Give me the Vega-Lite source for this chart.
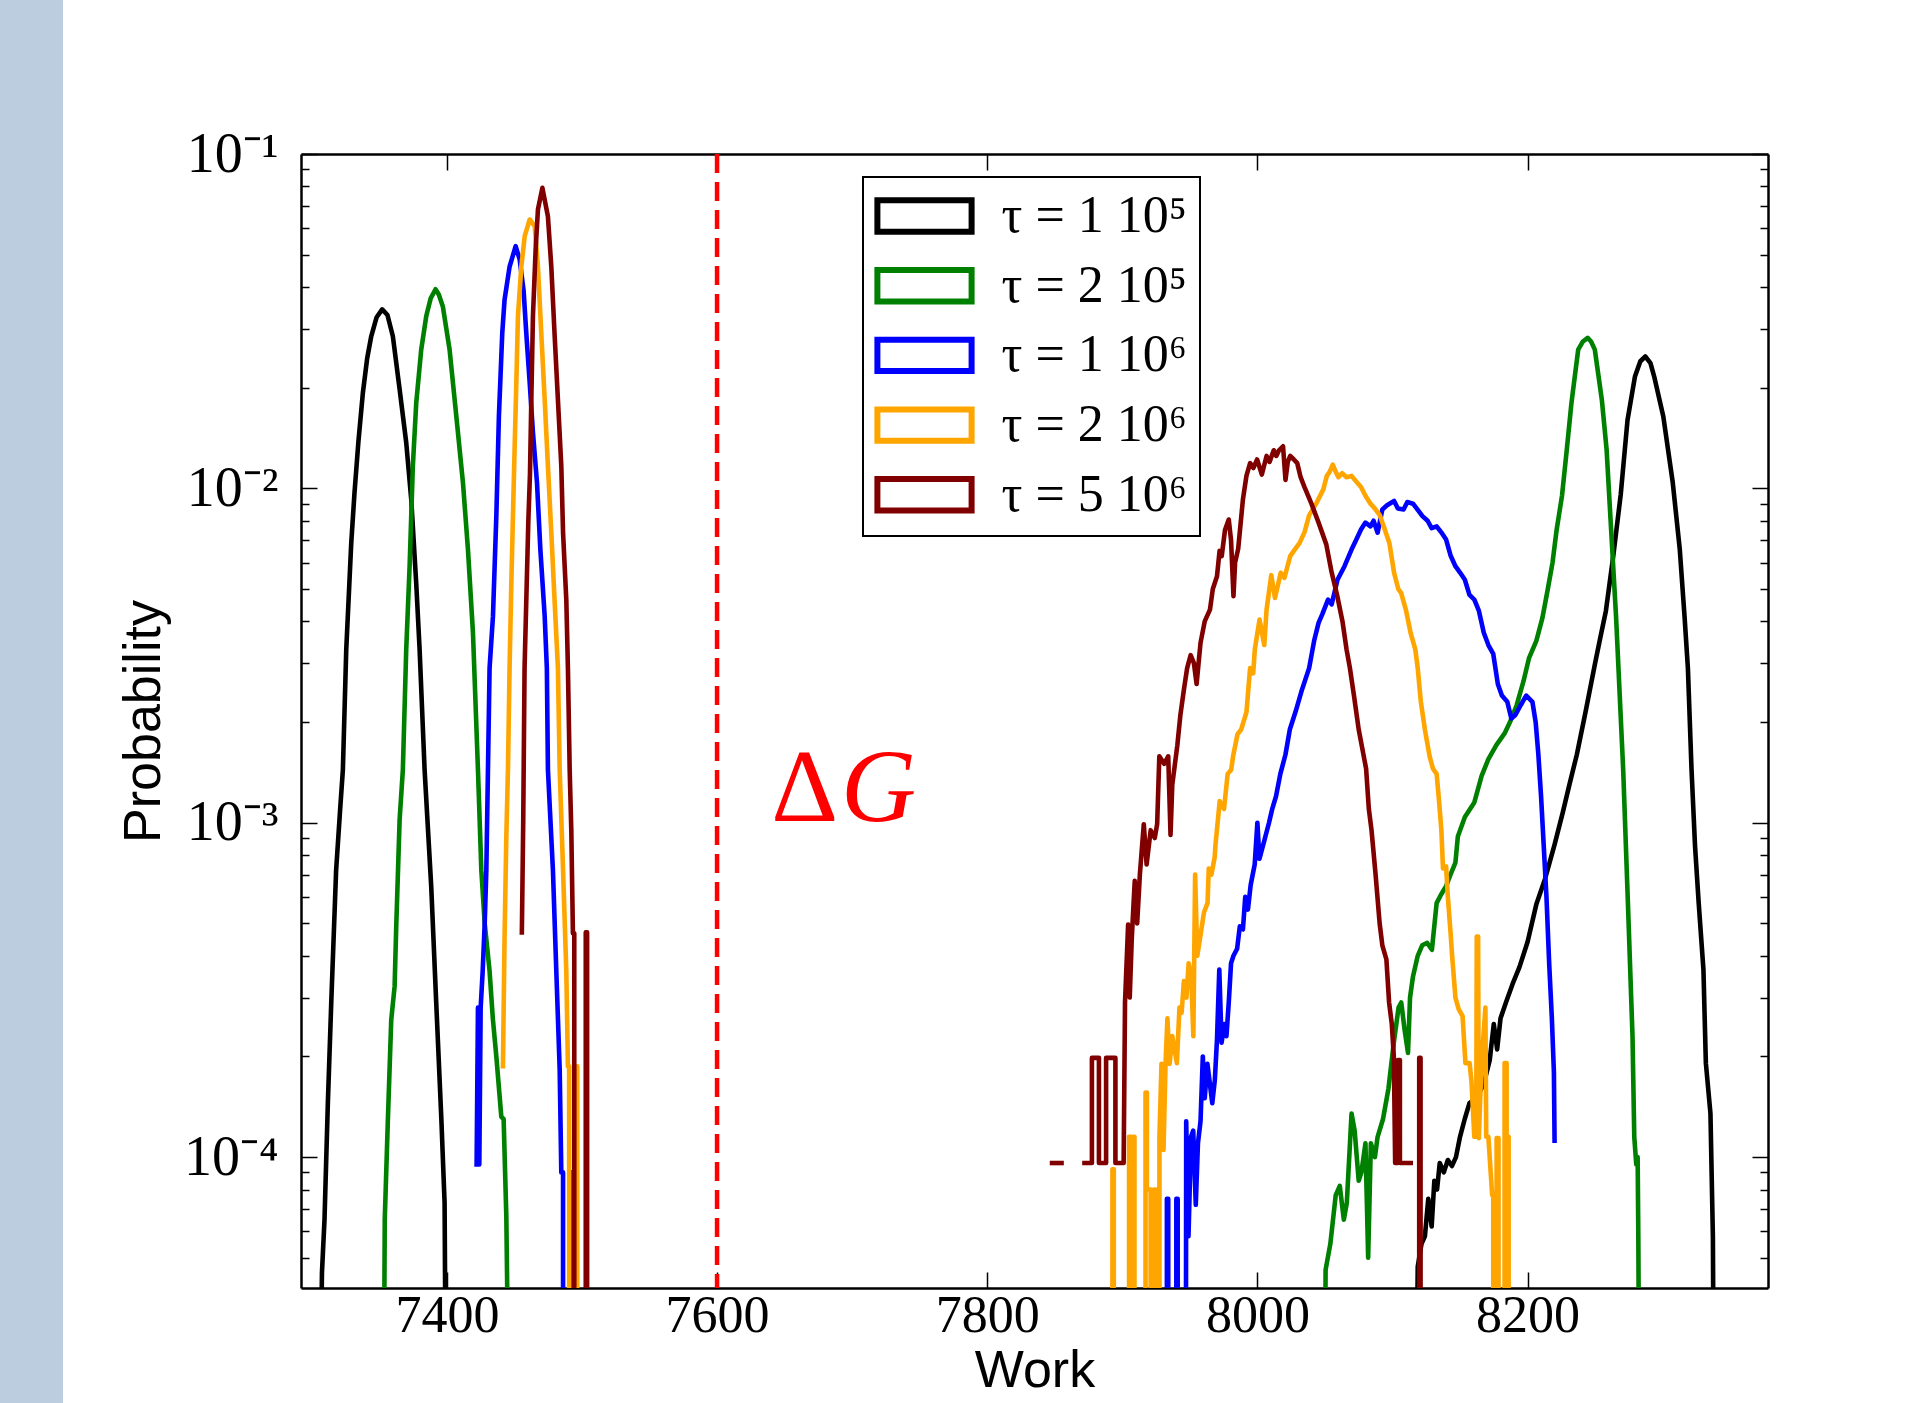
{
"$schema": "https://vega.github.io/schema/vega-lite/v6.json",
"width": 1467, "height": 1134,
"autosize": {"type": "none"},
"padding": {"left": 301, "top": 154, "right": 147, "bottom": 115},
"background": "#bdcde0",
"config": {
 "view": {"stroke": "white", "strokeWidth": 476, "fill": "white"},
 "axis": {"labelFont": "Liberation Serif", "labelFontSize": 52, "labelColor": "black", "titleFont": "Liberation Sans", "titleFontSize": 52, "titleFontWeight": "normal", "titleColor": "black", "domainColor": "black", "domainWidth": 2.5, "tickColor": "black", "tickWidth": 1.5, "grid": false},
 "legend": {"strokeWidth": 2}
},
"datasets": {
"curves": [
{"tau":"A","seg":"L","work":7305.5,"prob":1e-5},{"tau":"A","seg":"L","work":7307.5,"prob":4.5e-5},{"tau":"A","seg":"L","work":7309.4,"prob":6.5e-5},{"tau":"A","seg":"L","work":7311.9,"prob":1.46e-4},{"tau":"A","seg":"L","work":7314.4,"prob":2.9e-4},{"tau":"A","seg":"L","work":7318,"prob":7.2e-4},{"tau":"A","seg":"L","work":7321,"prob":1.1e-3},{"tau":"A","seg":"L","work":7323,"prob":1.44e-3},{"tau":"A","seg":"L","work":7325.5,"prob":3.3e-3},{"tau":"A","seg":"L","work":7329.2,"prob":6.87e-3},{"tau":"A","seg":"L","work":7331.6,"prob":9.7e-3},{"tau":"A","seg":"L","work":7334.5,"prob":0.0138},{"tau":"A","seg":"L","work":7337.8,"prob":0.0193},{"tau":"A","seg":"L","work":7341,"prob":0.0245},{"tau":"A","seg":"L","work":7344,"prob":0.0285},{"tau":"A","seg":"L","work":7348,"prob":0.0325},{"tau":"A","seg":"L","work":7352.1,"prob":0.0343},{"tau":"A","seg":"L","work":7356,"prob":0.033},{"tau":"A","seg":"L","work":7360,"prob":0.0285},{"tau":"A","seg":"L","work":7365,"prob":0.0198},{"tau":"A","seg":"L","work":7369.9,"prob":0.0137},{"tau":"A","seg":"L","work":7373.6,"prob":0.00927},{"tau":"A","seg":"L","work":7377.3,"prob":0.0052},{"tau":"A","seg":"L","work":7379.8,"prob":0.0033},{"tau":"A","seg":"L","work":7383.5,"prob":0.00144},{"tau":"A","seg":"L","work":7388.4,"prob":6.45e-4},{"tau":"A","seg":"L","work":7392.1,"prob":2.9e-4},{"tau":"A","seg":"L","work":7395.9,"prob":1.3e-4},{"tau":"A","seg":"L","work":7398.3,"prob":7.3e-5},{"tau":"A","seg":"L","work":7399.6,"prob":1e-5},
{"tau":"A","seg":"R","work":8117,"prob":1e-5},{"tau":"A","seg":"R","work":8118.7,"prob":4.7e-5},{"tau":"A","seg":"R","work":8121.5,"prob":5.5e-5},{"tau":"A","seg":"R","work":8124,"prob":5.8e-5},{"tau":"A","seg":"R","work":8126.5,"prob":7.5e-5},{"tau":"A","seg":"R","work":8129,"prob":6.2e-5},{"tau":"A","seg":"R","work":8131,"prob":8.5e-5},{"tau":"A","seg":"R","work":8133,"prob":8.0e-5},{"tau":"A","seg":"R","work":8135,"prob":9.6e-5},{"tau":"A","seg":"R","work":8138,"prob":9.0e-5},{"tau":"A","seg":"R","work":8141,"prob":9.8e-5},{"tau":"A","seg":"R","work":8144,"prob":9.4e-5},{"tau":"A","seg":"R","work":8147,"prob":1.0e-4},{"tau":"A","seg":"R","work":8150,"prob":1.15e-4},{"tau":"A","seg":"R","work":8153.5,"prob":1.3e-4},{"tau":"A","seg":"R","work":8157,"prob":1.45e-4},{"tau":"A","seg":"R","work":8162,"prob":1.5e-4},{"tau":"A","seg":"R","work":8167.5,"prob":1.65e-4},{"tau":"A","seg":"R","work":8172,"prob":1.95e-4},{"tau":"A","seg":"R","work":8175,"prob":2.5e-4},{"tau":"A","seg":"R","work":8177.5,"prob":2.1e-4},{"tau":"A","seg":"R","work":8180,"prob":2.6e-4},{"tau":"A","seg":"R","work":8184,"prob":2.9e-4},{"tau":"A","seg":"R","work":8189,"prob":3.3e-4},{"tau":"A","seg":"R","work":8194,"prob":3.7e-4},{"tau":"A","seg":"R","work":8200,"prob":4.4e-4},{"tau":"A","seg":"R","work":8206.5,"prob":5.7e-4},{"tau":"A","seg":"R","work":8213,"prob":6.8e-4},{"tau":"A","seg":"R","work":8220,"prob":8.6e-4},{"tau":"A","seg":"R","work":8226,"prob":1.07e-3},{"tau":"A","seg":"R","work":8231,"prob":1.3e-3},{"tau":"A","seg":"R","work":8236.5,"prob":1.6e-3},{"tau":"A","seg":"R","work":8243,"prob":2.15e-3},{"tau":"A","seg":"R","work":8250,"prob":3.0e-3},{"tau":"A","seg":"R","work":8254,"prob":3.6e-3},{"tau":"A","seg":"R","work":8258,"prob":4.3e-3},{"tau":"A","seg":"R","work":8263.5,"prob":6.3e-3},{"tau":"A","seg":"R","work":8269,"prob":9.6e-3},{"tau":"A","seg":"R","work":8274,"prob":0.016},{"tau":"A","seg":"R","work":8279.5,"prob":0.0216},{"tau":"A","seg":"R","work":8283.5,"prob":0.024},{"tau":"A","seg":"R","work":8287.2,"prob":0.0248},{"tau":"A","seg":"R","work":8291,"prob":0.0237},{"tau":"A","seg":"R","work":8294,"prob":0.0214},{"tau":"A","seg":"R","work":8300.5,"prob":0.0164},{"tau":"A","seg":"R","work":8307.5,"prob":0.0104},{"tau":"A","seg":"R","work":8312.7,"prob":6.56e-3},{"tau":"A","seg":"R","work":8316.2,"prob":4.15e-3},{"tau":"A","seg":"R","work":8318.7,"prob":2.9e-3},{"tau":"A","seg":"R","work":8321.4,"prob":1.44e-3},{"tau":"A","seg":"R","work":8324,"prob":8.5e-4},{"tau":"A","seg":"R","work":8326.7,"prob":5.75e-4},{"tau":"A","seg":"R","work":8330.2,"prob":3.64e-4},{"tau":"A","seg":"R","work":8332,"prob":1.91e-4},{"tau":"A","seg":"R","work":8335.4,"prob":1.35e-4},{"tau":"A","seg":"R","work":8337.2,"prob":5.8e-5},{"tau":"A","seg":"R","work":8338.2,"prob":1e-5},
{"tau":"B","seg":"L","work":7353,"prob":1e-5},{"tau":"B","seg":"L","work":7354,"prob":6.5e-5},{"tau":"B","seg":"L","work":7356.3,"prob":1.29e-4},{"tau":"B","seg":"L","work":7358.8,"prob":2.57e-4},{"tau":"B","seg":"L","work":7361.3,"prob":3.24e-4},{"tau":"B","seg":"L","work":7362.5,"prob":4.9e-4},{"tau":"B","seg":"L","work":7365,"prob":1.02e-3},{"tau":"B","seg":"L","work":7367.4,"prob":1.44e-3},{"tau":"B","seg":"L","work":7369.9,"prob":3.3e-3},{"tau":"B","seg":"L","work":7372.4,"prob":5.85e-3},{"tau":"B","seg":"L","work":7374.8,"prob":0.01165},{"tau":"B","seg":"L","work":7377.3,"prob":0.018},{"tau":"B","seg":"L","work":7381,"prob":0.026},{"tau":"B","seg":"L","work":7384.7,"prob":0.0327},{"tau":"B","seg":"L","work":7388,"prob":0.037},{"tau":"B","seg":"L","work":7391.6,"prob":0.0394},{"tau":"B","seg":"L","work":7394,"prob":0.038},{"tau":"B","seg":"L","work":7397,"prob":0.035},{"tau":"B","seg":"L","work":7402,"prob":0.026},{"tau":"B","seg":"L","work":7407,"prob":0.0164},{"tau":"B","seg":"L","work":7411.9,"prob":0.0104},{"tau":"B","seg":"L","work":7415.6,"prob":6.56e-3},{"tau":"B","seg":"L","work":7419.3,"prob":3.7e-3},{"tau":"B","seg":"L","work":7423,"prob":1.44e-3},{"tau":"B","seg":"L","work":7425.5,"prob":7.2e-4},{"tau":"B","seg":"L","work":7428,"prob":5.0e-4},{"tau":"B","seg":"L","work":7431.6,"prob":3.6e-4},{"tau":"B","seg":"L","work":7434,"prob":2.6e-4},{"tau":"B","seg":"L","work":7436.6,"prob":2.0e-4},{"tau":"B","seg":"L","work":7440.3,"prob":1.32e-4},{"tau":"B","seg":"L","work":7442,"prob":1.3e-4},{"tau":"B","seg":"L","work":7444,"prob":6.65e-5},{"tau":"B","seg":"L","work":7446.5,"prob":1e-5},
{"tau":"B","seg":"R","work":8049.5,"prob":1e-5},{"tau":"B","seg":"R","work":8050.5,"prob":4.6e-5},{"tau":"B","seg":"R","work":8054,"prob":5.5e-5},{"tau":"B","seg":"R","work":8058,"prob":7.7e-5},{"tau":"B","seg":"R","work":8061,"prob":8.2e-5},{"tau":"B","seg":"R","work":8064,"prob":6.5e-5},{"tau":"B","seg":"R","work":8066.2,"prob":7.3e-5},{"tau":"B","seg":"R","work":8069.7,"prob":1.35e-4},{"tau":"B","seg":"R","work":8072,"prob":1.2e-4},{"tau":"B","seg":"R","work":8075,"prob":8.5e-5},{"tau":"B","seg":"R","work":8077,"prob":9.0e-5},{"tau":"B","seg":"R","work":8080,"prob":1.1e-4},{"tau":"B","seg":"R","work":8082,"prob":5.0e-5},{"tau":"B","seg":"R","work":8084,"prob":1.1e-4},{"tau":"B","seg":"R","work":8087,"prob":1.0e-4},{"tau":"B","seg":"R","work":8089,"prob":1.15e-4},{"tau":"B","seg":"R","work":8093,"prob":1.3e-4},{"tau":"B","seg":"R","work":8097,"prob":1.6e-4},{"tau":"B","seg":"R","work":8101,"prob":2.2e-4},{"tau":"B","seg":"R","work":8104.5,"prob":2.8e-4},{"tau":"B","seg":"R","work":8106.5,"prob":2.9e-4},{"tau":"B","seg":"R","work":8109,"prob":2.4e-4},{"tau":"B","seg":"R","work":8111.5,"prob":2.05e-4},{"tau":"B","seg":"R","work":8113,"prob":3.0e-4},{"tau":"B","seg":"R","work":8115.2,"prob":3.47e-4},{"tau":"B","seg":"R","work":8118.7,"prob":4.0e-4},{"tau":"B","seg":"R","work":8122,"prob":4.3e-4},{"tau":"B","seg":"R","work":8125.7,"prob":4.37e-4},{"tau":"B","seg":"R","work":8129.2,"prob":4.17e-4},{"tau":"B","seg":"R","work":8132.7,"prob":5.75e-4},{"tau":"B","seg":"R","work":8136,"prob":6.1e-4},{"tau":"B","seg":"R","work":8139.7,"prob":6.46e-4},{"tau":"B","seg":"R","work":8143,"prob":7.0e-4},{"tau":"B","seg":"R","work":8146.6,"prob":7.6e-4},{"tau":"B","seg":"R","work":8148.4,"prob":9.1e-4},{"tau":"B","seg":"R","work":8153.6,"prob":1.04e-3},{"tau":"B","seg":"R","work":8160.6,"prob":1.15e-3},{"tau":"B","seg":"R","work":8166,"prob":1.38e-3},{"tau":"B","seg":"R","work":8171,"prob":1.55e-3},{"tau":"B","seg":"R","work":8177,"prob":1.71e-3},{"tau":"B","seg":"R","work":8183,"prob":1.85e-3},{"tau":"B","seg":"R","work":8187,"prob":2.0e-3},{"tau":"B","seg":"R","work":8192,"prob":2.25e-3},{"tau":"B","seg":"R","work":8197,"prob":2.65e-3},{"tau":"B","seg":"R","work":8201,"prob":3.1e-3},{"tau":"B","seg":"R","work":8206.5,"prob":3.5e-3},{"tau":"B","seg":"R","work":8211,"prob":4.1e-3},{"tau":"B","seg":"R","work":8215,"prob":5.0e-3},{"tau":"B","seg":"R","work":8218.5,"prob":6.0e-3},{"tau":"B","seg":"R","work":8221.5,"prob":7.5e-3},{"tau":"B","seg":"R","work":8225.5,"prob":9.5e-3},{"tau":"B","seg":"R","work":8229,"prob":0.013},{"tau":"B","seg":"R","work":8232.5,"prob":0.018},{"tau":"B","seg":"R","work":8237.5,"prob":0.026},{"tau":"B","seg":"R","work":8241,"prob":0.0275},{"tau":"B","seg":"R","work":8244.5,"prob":0.0282},{"tau":"B","seg":"R","work":8247,"prob":0.0275},{"tau":"B","seg":"R","work":8249.8,"prob":0.026},{"tau":"B","seg":"R","work":8255,"prob":0.0184},{"tau":"B","seg":"R","work":8258.5,"prob":0.0131},{"tau":"B","seg":"R","work":8262,"prob":7.36e-3},{"tau":"B","seg":"R","work":8265.5,"prob":4.15e-3},{"tau":"B","seg":"R","work":8267.3,"prob":2.9e-3},{"tau":"B","seg":"R","work":8270.8,"prob":1.44e-3},{"tau":"B","seg":"R","work":8274.3,"prob":5.75e-4},{"tau":"B","seg":"R","work":8277.7,"prob":2.3e-4},{"tau":"B","seg":"R","work":8279,"prob":1.15e-4},{"tau":"B","seg":"R","work":8280.5,"prob":9.5e-5},{"tau":"B","seg":"R","work":8281.5,"prob":1.0e-4},{"tau":"B","seg":"R","work":8282,"prob":5.8e-5},{"tau":"B","seg":"R","work":8283,"prob":1e-5},
{"tau":"C","seg":"L","work":7422,"prob":9.5e-5},{"tau":"C","seg":"L","work":7423,"prob":2.8e-4},{"tau":"C","seg":"L","work":7424,"prob":9.5e-5},{"tau":"C","seg":"L","work":7425,"prob":2.8e-4},{"tau":"C","seg":"L","work":7426.5,"prob":3.6e-4},{"tau":"C","seg":"L","work":7428,"prob":5.0e-4},{"tau":"C","seg":"L","work":7429.2,"prob":7.2e-4},{"tau":"C","seg":"L","work":7430.4,"prob":1.44e-3},{"tau":"C","seg":"L","work":7431.6,"prob":2.9e-3},{"tau":"C","seg":"L","work":7434.1,"prob":4.14e-3},{"tau":"C","seg":"L","work":7436.6,"prob":8.26e-3},{"tau":"C","seg":"L","work":7438.5,"prob":0.0164},{"tau":"C","seg":"L","work":7441,"prob":0.0292},{"tau":"C","seg":"L","work":7442.7,"prob":0.0367},{"tau":"C","seg":"L","work":7446.4,"prob":0.046},{"tau":"C","seg":"L","work":7450.9,"prob":0.053},{"tau":"C","seg":"L","work":7453.9,"prob":0.0483},{"tau":"C","seg":"L","work":7456.8,"prob":0.039},{"tau":"C","seg":"L","work":7458.8,"prob":0.029},{"tau":"C","seg":"L","work":7461.3,"prob":0.0207},{"tau":"C","seg":"L","work":7463.7,"prob":0.0147},{"tau":"C","seg":"L","work":7466.7,"prob":0.0104},{"tau":"C","seg":"L","work":7469.2,"prob":6.56e-3},{"tau":"C","seg":"L","work":7472.4,"prob":4.14e-3},{"tau":"C","seg":"L","work":7474,"prob":2.9e-3},{"tau":"C","seg":"L","work":7474.8,"prob":1.44e-3},{"tau":"C","seg":"L","work":7478.5,"prob":7.2e-4},{"tau":"C","seg":"L","work":7481,"prob":3.6e-4},{"tau":"C","seg":"L","work":7483.5,"prob":1.83e-4},{"tau":"C","seg":"L","work":7484.7,"prob":9e-5},{"tau":"C","seg":"L","work":7486,"prob":9e-5},{"tau":"C","seg":"L","work":7486,"prob":1e-5},
{"tau":"C","seg":"L2","work":7491.6,"prob":1e-5},{"tau":"C","seg":"L2","work":7491.6,"prob":9e-5},{"tau":"C","seg":"L2","work":7492.6,"prob":9e-5},{"tau":"C","seg":"L2","work":7492.6,"prob":1e-5},
{"tau":"C","seg":"R1","work":7933,"prob":1e-5},{"tau":"C","seg":"R1","work":7933,"prob":7.5e-5},{"tau":"C","seg":"R1","work":7934,"prob":7.5e-5},{"tau":"C","seg":"R1","work":7934,"prob":1e-5},{"tau":"C","seg":"R1","work":7940,"prob":1e-5},{"tau":"C","seg":"R1","work":7940,"prob":7.5e-5},{"tau":"C","seg":"R1","work":7941,"prob":7.5e-5},{"tau":"C","seg":"R1","work":7941,"prob":1e-5},
{"tau":"C","seg":"R","work":7947,"prob":1e-5},{"tau":"C","seg":"R","work":7947.3,"prob":1.28e-4},{"tau":"C","seg":"R","work":7949,"prob":5.8e-5},{"tau":"C","seg":"R","work":7950.9,"prob":1.15e-4},{"tau":"C","seg":"R","work":7952.5,"prob":1.2e-4},{"tau":"C","seg":"R","work":7954.4,"prob":7.2e-5},{"tau":"C","seg":"R","work":7956,"prob":1.1e-4},{"tau":"C","seg":"R","work":7957.9,"prob":1.28e-4},{"tau":"C","seg":"R","work":7959.6,"prob":2.0e-4},{"tau":"C","seg":"R","work":7961,"prob":1.5e-4},{"tau":"C","seg":"R","work":7963,"prob":1.9e-4},{"tau":"C","seg":"R","work":7966.6,"prob":1.45e-4},{"tau":"C","seg":"R","work":7968.5,"prob":1.7e-4},{"tau":"C","seg":"R","work":7970.1,"prob":2.25e-4},{"tau":"C","seg":"R","work":7971.8,"prob":3.64e-4},{"tau":"C","seg":"R","work":7973.5,"prob":2.2e-4},{"tau":"C","seg":"R","work":7975.5,"prob":2.5e-4},{"tau":"C","seg":"R","work":7977.1,"prob":2.3e-4},{"tau":"C","seg":"R","work":7978.8,"prob":2.9e-4},{"tau":"C","seg":"R","work":7980.5,"prob":3.8e-4},{"tau":"C","seg":"R","work":7982.3,"prob":4.0e-4},{"tau":"C","seg":"R","work":7985,"prob":4.2e-4},{"tau":"C","seg":"R","work":7987,"prob":4.9e-4},{"tau":"C","seg":"R","work":7989.3,"prob":4.8e-4},{"tau":"C","seg":"R","work":7991,"prob":6.0e-4},{"tau":"C","seg":"R","work":7993,"prob":5.5e-4},{"tau":"C","seg":"R","work":7995,"prob":6.5e-4},{"tau":"C","seg":"R","work":7998,"prob":7.5e-4},{"tau":"C","seg":"R","work":8000,"prob":1.0e-3},{"tau":"C","seg":"R","work":8001.5,"prob":7.8e-4},{"tau":"C","seg":"R","work":8004,"prob":8.5e-4},{"tau":"C","seg":"R","work":8008.6,"prob":1.0e-3},{"tau":"C","seg":"R","work":8011,"prob":1.1e-3},{"tau":"C","seg":"R","work":8013.8,"prob":1.2e-3},{"tau":"C","seg":"R","work":8017,"prob":1.4e-3},{"tau":"C","seg":"R","work":8020.8,"prob":1.6e-3},{"tau":"C","seg":"R","work":8024,"prob":1.9e-3},{"tau":"C","seg":"R","work":8028.3,"prob":2.15e-3},{"tau":"C","seg":"R","work":8033,"prob":2.5e-3},{"tau":"C","seg":"R","work":8038.3,"prob":2.9e-3},{"tau":"C","seg":"R","work":8042,"prob":3.5e-3},{"tau":"C","seg":"R","work":8045.3,"prob":3.96e-3},{"tau":"C","seg":"R","work":8048,"prob":4.2e-3},{"tau":"C","seg":"R","work":8052.3,"prob":4.65e-3},{"tau":"C","seg":"R","work":8055,"prob":4.5e-3},{"tau":"C","seg":"R","work":8059.3,"prob":5.33e-3},{"tau":"C","seg":"R","work":8064.5,"prob":5.85e-3},{"tau":"C","seg":"R","work":8069.7,"prob":6.56e-3},{"tau":"C","seg":"R","work":8073,"prob":7.0e-3},{"tau":"C","seg":"R","work":8076.7,"prob":7.53e-3},{"tau":"C","seg":"R","work":8080,"prob":7.9e-3},{"tau":"C","seg":"R","work":8083.7,"prob":7.7e-3},{"tau":"C","seg":"R","work":8086,"prob":8.0e-3},{"tau":"C","seg":"R","work":8089,"prob":7.37e-3},{"tau":"C","seg":"R","work":8092.5,"prob":8.65e-3},{"tau":"C","seg":"R","work":8096,"prob":8.9e-3},{"tau":"C","seg":"R","work":8101.2,"prob":9.17e-3},{"tau":"C","seg":"R","work":8104,"prob":8.7e-3},{"tau":"C","seg":"R","work":8108.2,"prob":8.65e-3},{"tau":"C","seg":"R","work":8111,"prob":9.1e-3},{"tau":"C","seg":"R","work":8115.2,"prob":9.0e-3},{"tau":"C","seg":"R","work":8118,"prob":8.7e-3},{"tau":"C","seg":"R","work":8122.2,"prob":8.26e-3},{"tau":"C","seg":"R","work":8126,"prob":8.0e-3},{"tau":"C","seg":"R","work":8129,"prob":7.6e-3},{"tau":"C","seg":"R","work":8132.7,"prob":7.7e-3},{"tau":"C","seg":"R","work":8136,"prob":7.4e-3},{"tau":"C","seg":"R","work":8139.7,"prob":7.03e-3},{"tau":"C","seg":"R","work":8143,"prob":6.3e-3},{"tau":"C","seg":"R","work":8146.6,"prob":5.85e-3},{"tau":"C","seg":"R","work":8150,"prob":5.6e-3},{"tau":"C","seg":"R","work":8153.6,"prob":5.33e-3},{"tau":"C","seg":"R","work":8157,"prob":4.8e-3},{"tau":"C","seg":"R","work":8160.6,"prob":4.65e-3},{"tau":"C","seg":"R","work":8164,"prob":4.3e-3},{"tau":"C","seg":"R","work":8167.6,"prob":3.7e-3},{"tau":"C","seg":"R","work":8171,"prob":3.4e-3},{"tau":"C","seg":"R","work":8174.6,"prob":3.2e-3},{"tau":"C","seg":"R","work":8178,"prob":2.6e-3},{"tau":"C","seg":"R","work":8181,"prob":2.4e-3},{"tau":"C","seg":"R","work":8185,"prob":2.3e-3},{"tau":"C","seg":"R","work":8188,"prob":2.05e-3},{"tau":"C","seg":"R","work":8191,"prob":2.1e-3},{"tau":"C","seg":"R","work":8195,"prob":2.25e-3},{"tau":"C","seg":"R","work":8199,"prob":2.4e-3},{"tau":"C","seg":"R","work":8203.6,"prob":2.3e-3},{"tau":"C","seg":"R","work":8206,"prob":2.0e-3},{"tau":"C","seg":"R","work":8208,"prob":1.6e-3},{"tau":"C","seg":"R","work":8210,"prob":1.2e-3},{"tau":"C","seg":"R","work":8212,"prob":8.5e-4},{"tau":"C","seg":"R","work":8214,"prob":6.0e-4},{"tau":"C","seg":"R","work":8216,"prob":3.8e-4},{"tau":"C","seg":"R","work":8218,"prob":2.6e-4},{"tau":"C","seg":"R","work":8219.5,"prob":1.8e-4},{"tau":"C","seg":"R","work":8220,"prob":1.12e-4},
{"tau":"D","seg":"L","work":7441.5,"prob":1.87e-4},{"tau":"D","seg":"L","work":7442.7,"prob":4.57e-4},{"tau":"D","seg":"L","work":7444,"prob":9.1e-4},{"tau":"D","seg":"L","work":7445.2,"prob":1.44e-3},{"tau":"D","seg":"L","work":7446.4,"prob":2.9e-3},{"tau":"D","seg":"L","work":7447.7,"prob":5.2e-3},{"tau":"D","seg":"L","work":7448.9,"prob":8.26e-3},{"tau":"D","seg":"L","work":7450.1,"prob":0.013},{"tau":"D","seg":"L","work":7451.4,"prob":0.0207},{"tau":"D","seg":"L","work":7452.6,"prob":0.0327},{"tau":"D","seg":"L","work":7455.1,"prob":0.046},{"tau":"D","seg":"L","work":7457.6,"prob":0.0568},{"tau":"D","seg":"L","work":7461.3,"prob":0.0637},{"tau":"D","seg":"L","work":7465,"prob":0.0609},{"tau":"D","seg":"L","work":7467.4,"prob":0.046},{"tau":"D","seg":"L","work":7469.9,"prob":0.029},{"tau":"D","seg":"L","work":7472.4,"prob":0.0184},{"tau":"D","seg":"L","work":7474.8,"prob":0.01165},{"tau":"D","seg":"L","work":7477.3,"prob":7.36e-3},{"tau":"D","seg":"L","work":7479.7,"prob":4.64e-3},{"tau":"D","seg":"L","work":7482.2,"prob":2.9e-3},{"tau":"D","seg":"L","work":7483.5,"prob":1.44e-3},{"tau":"D","seg":"L","work":7486,"prob":7.2e-4},{"tau":"D","seg":"L","work":7488.4,"prob":3.6e-4},{"tau":"D","seg":"L","work":7489.6,"prob":1.87e-4},{"tau":"D","seg":"L","work":7490.5,"prob":1.87e-4},{"tau":"D","seg":"L","work":7490.5,"prob":1e-5},
{"tau":"D","seg":"L2","work":7495.5,"prob":1e-5},{"tau":"D","seg":"L2","work":7495.5,"prob":1.87e-4},{"tau":"D","seg":"L2","work":7496.5,"prob":1.87e-4},{"tau":"D","seg":"L2","work":7496.5,"prob":1e-5},
{"tau":"D","seg":"R","work":7892.7,"prob":1e-5},{"tau":"D","seg":"R","work":7892.7,"prob":9.2e-5},{"tau":"D","seg":"R","work":7893.7,"prob":9.2e-5},{"tau":"D","seg":"R","work":7893.7,"prob":1e-5},{"tau":"D","seg":"R","work":7905,"prob":1e-5},{"tau":"D","seg":"R","work":7905,"prob":1.15e-4},{"tau":"D","seg":"R","work":7906.5,"prob":1.15e-4},{"tau":"D","seg":"R","work":7906.5,"prob":1e-5},{"tau":"D","seg":"R","work":7908,"prob":1e-5},{"tau":"D","seg":"R","work":7908,"prob":1.15e-4},{"tau":"D","seg":"R","work":7909,"prob":1.15e-4},{"tau":"D","seg":"R","work":7909,"prob":1e-5},{"tau":"D","seg":"R","work":7917.2,"prob":1e-5},{"tau":"D","seg":"R","work":7917.2,"prob":1.56e-4},{"tau":"D","seg":"R","work":7918.2,"prob":1.56e-4},{"tau":"D","seg":"R","work":7918.2,"prob":8e-5},{"tau":"D","seg":"R","work":7921,"prob":8e-5},{"tau":"D","seg":"R","work":7921,"prob":1e-5},{"tau":"D","seg":"R","work":7923.5,"prob":1e-5},{"tau":"D","seg":"R","work":7923.5,"prob":8e-5},{"tau":"D","seg":"R","work":7925,"prob":8e-5},{"tau":"D","seg":"R","work":7925,"prob":1e-5},{"tau":"D","seg":"R","work":7927.5,"prob":1e-5},{"tau":"D","seg":"R","work":7927.5,"prob":1.15e-4},{"tau":"D","seg":"R","work":7929,"prob":1.9e-4},{"tau":"D","seg":"R","work":7930.5,"prob":1.05e-4},{"tau":"D","seg":"R","work":7932,"prob":1.9e-4},{"tau":"D","seg":"R","work":7933.4,"prob":2.6e-4},{"tau":"D","seg":"R","work":7935,"prob":1.9e-4},{"tau":"D","seg":"R","work":7937,"prob":2.3e-4},{"tau":"D","seg":"R","work":7940.4,"prob":1.91e-4},{"tau":"D","seg":"R","work":7942.3,"prob":2.8e-4},{"tau":"D","seg":"R","work":7943.9,"prob":2.7e-4},{"tau":"D","seg":"R","work":7945.6,"prob":3.36e-4},{"tau":"D","seg":"R","work":7947.5,"prob":3.0e-4},{"tau":"D","seg":"R","work":7949.1,"prob":3.8e-4},{"tau":"D","seg":"R","work":7951,"prob":3.5e-4},{"tau":"D","seg":"R","work":7952.6,"prob":2.3e-4},{"tau":"D","seg":"R","work":7953.9,"prob":7.0e-4},{"tau":"D","seg":"R","work":7955.5,"prob":4.0e-4},{"tau":"D","seg":"R","work":7957.5,"prob":4.5e-4},{"tau":"D","seg":"R","work":7960.5,"prob":5.4e-4},{"tau":"D","seg":"R","work":7963.1,"prob":5.75e-4},{"tau":"D","seg":"R","work":7964,"prob":7.3e-4},{"tau":"D","seg":"R","work":7966,"prob":7.0e-4},{"tau":"D","seg":"R","work":7968.4,"prob":7.9e-4},{"tau":"D","seg":"R","work":7969,"prob":8.6e-4},{"tau":"D","seg":"R","work":7972.1,"prob":1.16e-3},{"tau":"D","seg":"R","work":7975.3,"prob":1.1e-3},{"tau":"D","seg":"R","work":7978,"prob":1.4e-3},{"tau":"D","seg":"R","work":7980.6,"prob":1.44e-3},{"tau":"D","seg":"R","work":7982,"prob":1.58e-3},{"tau":"D","seg":"R","work":7985.3,"prob":1.84e-3},{"tau":"D","seg":"R","work":7988,"prob":1.9e-3},{"tau":"D","seg":"R","work":7991.9,"prob":2.14e-3},{"tau":"D","seg":"R","work":7994.6,"prob":2.9e-3},{"tau":"D","seg":"R","work":7996.9,"prob":2.8e-3},{"tau":"D","seg":"R","work":7998.1,"prob":3.3e-3},{"tau":"D","seg":"R","work":8001.6,"prob":4.05e-3},{"tau":"D","seg":"R","work":8005.1,"prob":3.4e-3},{"tau":"D","seg":"R","work":8006.8,"prob":4.34e-3},{"tau":"D","seg":"R","work":8010.3,"prob":5.5e-3},{"tau":"D","seg":"R","work":8013,"prob":4.7e-3},{"tau":"D","seg":"R","work":8017.3,"prob":5.59e-3},{"tau":"D","seg":"R","work":8020,"prob":5.4e-3},{"tau":"D","seg":"R","work":8024.3,"prob":6.27e-3},{"tau":"D","seg":"R","work":8027,"prob":6.5e-3},{"tau":"D","seg":"R","work":8031.3,"prob":6.87e-3},{"tau":"D","seg":"R","work":8034.9,"prob":7.4e-3},{"tau":"D","seg":"R","work":8038.3,"prob":8.3e-3},{"tau":"D","seg":"R","work":8043.5,"prob":9.0e-3},{"tau":"D","seg":"R","work":8048.8,"prob":9.93e-3},{"tau":"D","seg":"R","work":8051.4,"prob":0.0109},{"tau":"D","seg":"R","work":8053.5,"prob":0.0112},{"tau":"D","seg":"R","work":8055.8,"prob":0.01178},{"tau":"D","seg":"R","work":8058,"prob":0.0112},{"tau":"D","seg":"R","work":8060,"prob":0.0108},{"tau":"D","seg":"R","work":8062.7,"prob":0.0111},{"tau":"D","seg":"R","work":8066,"prob":0.0108},{"tau":"D","seg":"R","work":8069.7,"prob":0.0109},{"tau":"D","seg":"R","work":8073,"prob":0.0105},{"tau":"D","seg":"R","work":8076.7,"prob":0.0101},{"tau":"D","seg":"R","work":8080,"prob":9.5e-3},{"tau":"D","seg":"R","work":8083.7,"prob":9.0e-3},{"tau":"D","seg":"R","work":8087,"prob":8.7e-3},{"tau":"D","seg":"R","work":8090.7,"prob":8.3e-3},{"tau":"D","seg":"R","work":8094,"prob":7.6e-3},{"tau":"D","seg":"R","work":8097.7,"prob":6.87e-3},{"tau":"D","seg":"R","work":8101.2,"prob":5.59e-3},{"tau":"D","seg":"R","work":8104.3,"prob":5.0e-3},{"tau":"D","seg":"R","work":8106.4,"prob":4.87e-3},{"tau":"D","seg":"R","work":8109.9,"prob":4.34e-3},{"tau":"D","seg":"R","work":8113.4,"prob":3.7e-3},{"tau":"D","seg":"R","work":8116.9,"prob":3.3e-3},{"tau":"D","seg":"R","work":8118.7,"prob":2.9e-3},{"tau":"D","seg":"R","work":8121,"prob":2.3e-3},{"tau":"D","seg":"R","work":8124,"prob":1.9e-3},{"tau":"D","seg":"R","work":8127.5,"prob":1.58e-3},{"tau":"D","seg":"R","work":8130,"prob":1.45e-3},{"tau":"D","seg":"R","work":8132.7,"prob":1.4e-3},{"tau":"D","seg":"R","work":8134.5,"prob":1.16e-3},{"tau":"D","seg":"R","work":8136.2,"prob":9.5e-4},{"tau":"D","seg":"R","work":8137.4,"prob":7.3e-4},{"tau":"D","seg":"R","work":8139.7,"prob":7.4e-4},{"tau":"D","seg":"R","work":8141,"prob":6.0e-4},{"tau":"D","seg":"R","work":8143.2,"prob":4.57e-4},{"tau":"D","seg":"R","work":8144,"prob":4.08e-4},{"tau":"D","seg":"R","work":8146.6,"prob":3.0e-4},{"tau":"D","seg":"R","work":8149,"prob":2.77e-4},{"tau":"D","seg":"R","work":8151.9,"prob":2.64e-4},{"tau":"D","seg":"R","work":8154,"prob":1.91e-4},{"tau":"D","seg":"R","work":8157.1,"prob":1.91e-4},{"tau":"D","seg":"R","work":8158.5,"prob":1.68e-4},{"tau":"D","seg":"R","work":8160.6,"prob":1.15e-4},{"tau":"D","seg":"R","work":8162,"prob":1.15e-4},{"tau":"D","seg":"R","work":8162.4,"prob":4.57e-4},{"tau":"D","seg":"R","work":8163.4,"prob":4.57e-4},{"tau":"D","seg":"R","work":8163.9,"prob":1.14e-4},{"tau":"D","seg":"R","work":8165.9,"prob":1.91e-4},{"tau":"D","seg":"R","work":8168.8,"prob":2.8e-4},{"tau":"D","seg":"R","work":8169.4,"prob":1.15e-4},{"tau":"D","seg":"R","work":8171,"prob":1.15e-4},{"tau":"D","seg":"R","work":8173.8,"prob":7.7e-5},{"tau":"D","seg":"R","work":8174.6,"prob":7.8e-5},{"tau":"D","seg":"R","work":8174.6,"prob":1e-5},{"tau":"D","seg":"R","work":8177.1,"prob":1e-5},{"tau":"D","seg":"R","work":8177.1,"prob":1.14e-4},{"tau":"D","seg":"R","work":8178.5,"prob":1.14e-4},{"tau":"D","seg":"R","work":8178.5,"prob":1e-5},{"tau":"D","seg":"R","work":8183,"prob":1e-5},{"tau":"D","seg":"R","work":8183,"prob":1.91e-4},{"tau":"D","seg":"R","work":8184.5,"prob":1.91e-4},{"tau":"D","seg":"R","work":8184.5,"prob":1.15e-4},{"tau":"D","seg":"R","work":8186,"prob":1.15e-4},{"tau":"D","seg":"R","work":8186,"prob":1e-5},
{"tau":"E","seg":"L","work":7455.5,"prob":4.7e-4},{"tau":"E","seg":"L","work":7456.5,"prob":1.0e-3},{"tau":"E","seg":"L","work":7457.5,"prob":2.9e-3},{"tau":"E","seg":"L","work":7459,"prob":5.0e-3},{"tau":"E","seg":"L","work":7460.3,"prob":8.0e-3},{"tau":"E","seg":"L","work":7461.5,"prob":0.011},{"tau":"E","seg":"L","work":7462.5,"prob":0.0184},{"tau":"E","seg":"L","work":7463.7,"prob":0.0327},{"tau":"E","seg":"L","work":7465.7,"prob":0.0518},{"tau":"E","seg":"L","work":7467.4,"prob":0.0682},{"tau":"E","seg":"L","work":7470.7,"prob":0.0792},{"tau":"E","seg":"L","work":7474.8,"prob":0.065},{"tau":"E","seg":"L","work":7477.3,"prob":0.046},{"tau":"E","seg":"L","work":7479.7,"prob":0.029},{"tau":"E","seg":"L","work":7482.2,"prob":0.0184},{"tau":"E","seg":"L","work":7484.7,"prob":0.01165},{"tau":"E","seg":"L","work":7486,"prob":7.36e-3},{"tau":"E","seg":"L","work":7488.4,"prob":4.64e-3},{"tau":"E","seg":"L","work":7489.6,"prob":2.9e-3},{"tau":"E","seg":"L","work":7490.9,"prob":1.44e-3},{"tau":"E","seg":"L","work":7492.1,"prob":9.5e-4},{"tau":"E","seg":"L","work":7493.3,"prob":4.67e-4},{"tau":"E","seg":"L","work":7494.3,"prob":4.67e-4},{"tau":"E","seg":"L","work":7494.3,"prob":1e-5},
{"tau":"E","seg":"L2","work":7502.8,"prob":1e-5},{"tau":"E","seg":"L2","work":7502.8,"prob":4.7e-4},{"tau":"E","seg":"L2","work":7503.8,"prob":4.7e-4},{"tau":"E","seg":"L2","work":7503.8,"prob":1e-5},
{"tau":"E","seg":"R1","work":7848,"prob":9.6e-5},{"tau":"E","seg":"R1","work":7855,"prob":9.6e-5},
{"tau":"E","seg":"R","work":7872,"prob":9.6e-5},{"tau":"E","seg":"R","work":7877.5,"prob":9.6e-5},{"tau":"E","seg":"R","work":7877.5,"prob":1.98e-4},{"tau":"E","seg":"R","work":7882.7,"prob":1.98e-4},{"tau":"E","seg":"R","work":7882.7,"prob":9.6e-5},{"tau":"E","seg":"R","work":7888,"prob":9.6e-5},{"tau":"E","seg":"R","work":7888,"prob":1.98e-4},{"tau":"E","seg":"R","work":7894.9,"prob":1.98e-4},{"tau":"E","seg":"R","work":7894.9,"prob":9.6e-5},{"tau":"E","seg":"R","work":7901,"prob":9.6e-5},{"tau":"E","seg":"R","work":7902,"prob":2.9e-4},{"tau":"E","seg":"R","work":7904.3,"prob":4.96e-4},{"tau":"E","seg":"R","work":7905.5,"prob":3.0e-4},{"tau":"E","seg":"R","work":7907,"prob":4.5e-4},{"tau":"E","seg":"R","work":7909.2,"prob":6.7e-4},{"tau":"E","seg":"R","work":7911,"prob":5.0e-4},{"tau":"E","seg":"R","work":7913,"prob":7.0e-4},{"tau":"E","seg":"R","work":7915.9,"prob":9.9e-4},{"tau":"E","seg":"R","work":7918,"prob":7.5e-4},{"tau":"E","seg":"R","work":7921,"prob":9.5e-4},{"tau":"E","seg":"R","work":7924,"prob":9.0e-4},{"tau":"E","seg":"R","work":7925.8,"prob":9.9e-4},{"tau":"E","seg":"R","work":7927.4,"prob":1.58e-3},{"tau":"E","seg":"R","work":7931,"prob":1.5e-3},{"tau":"E","seg":"R","work":7934,"prob":1.58e-3},{"tau":"E","seg":"R","work":7935.7,"prob":9.2e-4},{"tau":"E","seg":"R","work":7937,"prob":1.3e-3},{"tau":"E","seg":"R","work":7940.7,"prob":1.7e-3},{"tau":"E","seg":"R","work":7943,"prob":2.1e-3},{"tau":"E","seg":"R","work":7945.6,"prob":2.5e-3},{"tau":"E","seg":"R","work":7948,"prob":2.9e-3},{"tau":"E","seg":"R","work":7950.6,"prob":3.17e-3},{"tau":"E","seg":"R","work":7953,"prob":3.0e-3},{"tau":"E","seg":"R","work":7955,"prob":2.6e-3},{"tau":"E","seg":"R","work":7957.9,"prob":3.45e-3},{"tau":"E","seg":"R","work":7961,"prob":4.0e-3},{"tau":"E","seg":"R","work":7964.9,"prob":4.34e-3},{"tau":"E","seg":"R","work":7967,"prob":5.0e-3},{"tau":"E","seg":"R","work":7970.1,"prob":5.46e-3},{"tau":"E","seg":"R","work":7972,"prob":6.5e-3},{"tau":"E","seg":"R","work":7973.6,"prob":6.27e-3},{"tau":"E","seg":"R","work":7976,"prob":7.5e-3},{"tau":"E","seg":"R","work":7978.8,"prob":8.07e-3},{"tau":"E","seg":"R","work":7980.5,"prob":7.0e-3},{"tau":"E","seg":"R","work":7982.3,"prob":4.76e-3},{"tau":"E","seg":"R","work":7983.5,"prob":6.0e-3},{"tau":"E","seg":"R","work":7985.8,"prob":6.6e-3},{"tau":"E","seg":"R","work":7989.3,"prob":9.27e-3},{"tau":"E","seg":"R","work":7991.9,"prob":0.0109},{"tau":"E","seg":"R","work":7994.6,"prob":0.0119},{"tau":"E","seg":"R","work":7997,"prob":0.0115},{"tau":"E","seg":"R","work":7999.8,"prob":0.0122},{"tau":"E","seg":"R","work":8003.3,"prob":0.011},{"tau":"E","seg":"R","work":8006.8,"prob":0.0125},{"tau":"E","seg":"R","work":8009,"prob":0.012},{"tau":"E","seg":"R","work":8012.1,"prob":0.013},{"tau":"E","seg":"R","work":8014,"prob":0.0125},{"tau":"E","seg":"R","work":8016,"prob":0.013},{"tau":"E","seg":"R","work":8019,"prob":0.01336},{"tau":"E","seg":"R","work":8020.8,"prob":0.0106},{"tau":"E","seg":"R","work":8022.5,"prob":0.012},{"tau":"E","seg":"R","work":8024.3,"prob":0.0125},{"tau":"E","seg":"R","work":8027,"prob":0.0122},{"tau":"E","seg":"R","work":8029.5,"prob":0.0119},{"tau":"E","seg":"R","work":8032,"prob":0.0108},{"tau":"E","seg":"R","work":8034.8,"prob":0.0101},{"tau":"E","seg":"R","work":8040,"prob":9.0e-3},{"tau":"E","seg":"R","work":8045.3,"prob":7.9e-3},{"tau":"E","seg":"R","work":8051,"prob":6.8e-3},{"tau":"E","seg":"R","work":8055,"prob":5.6e-3},{"tau":"E","seg":"R","work":8059,"prob":4.8e-3},{"tau":"E","seg":"R","work":8063,"prob":4.0e-3},{"tau":"E","seg":"R","work":8066,"prob":3.3e-3},{"tau":"E","seg":"R","work":8068.5,"prob":2.9e-3},{"tau":"E","seg":"R","work":8071.5,"prob":2.4e-3},{"tau":"E","seg":"R","work":8075,"prob":1.9e-3},{"tau":"E","seg":"R","work":8078,"prob":1.64e-3},{"tau":"E","seg":"R","work":8080.5,"prob":1.45e-3},{"tau":"E","seg":"R","work":8082.5,"prob":1.1e-3},{"tau":"E","seg":"R","work":8084.5,"prob":9.5e-4},{"tau":"E","seg":"R","work":8087.5,"prob":7.0e-4},{"tau":"E","seg":"R","work":8090.5,"prob":5.0e-4},{"tau":"E","seg":"R","work":8092.5,"prob":4.3e-4},{"tau":"E","seg":"R","work":8095.5,"prob":3.9e-4},{"tau":"E","seg":"R","work":8097.5,"prob":2.9e-4},{"tau":"E","seg":"R","work":8099.5,"prob":2.5e-4},{"tau":"E","seg":"R","work":8101,"prob":2.0e-4},{"tau":"E","seg":"R","work":8102,"prob":9.6e-5},{"tau":"E","seg":"R","work":8104,"prob":9.6e-5},{"tau":"E","seg":"R","work":8104,"prob":1.95e-4},{"tau":"E","seg":"R","work":8105.5,"prob":1.95e-4},{"tau":"E","seg":"R","work":8105.5,"prob":9.6e-5},{"tau":"E","seg":"R","work":8113.5,"prob":9.6e-5},
{"tau":"E","seg":"R3","work":8119.8,"prob":1e-5},{"tau":"E","seg":"R3","work":8119.8,"prob":1.98e-4},{"tau":"E","seg":"R3","work":8120.8,"prob":1.98e-4},{"tau":"E","seg":"R3","work":8120.8,"prob":1e-5}
],
"vline": [{"work": 7600}],
"delta": [{"work": 7664.8, "prob": 0.001015, "label": "Δ"}],
"gee": [{"work": 7719.5, "prob": 0.001015, "label": "G"}]
},
"layer": [
{
 "data": {"name": "curves"},
 "mark": {"type": "line", "strokeWidth": 4.6, "clip": true, "strokeJoin": "round", "strokeCap": "square"},
 "encoding": {
  "x": {"field": "work", "type": "quantitative", "scale": {"domain": [7292, 8378], "nice": false, "zero": false},
        "axis": {"orient": "bottom", "values": [7400, 7600, 7800, 8000, 8200], "format": "d", "tickSize": -16, "labelPadding": 18, "labelFlush": false, "title": "Work", "titlePadding": 4}},
  "y": {"field": "prob", "type": "quantitative", "scale": {"type": "log", "domain": [0.0000406, 0.1], "nice": false},
        "axis": {"orient": "left", "values": [0.00005,0.00006,0.00007,0.00008,0.00009,0.0001,0.0002,0.0003,0.0004,0.0005,0.0006,0.0007,0.0008,0.0009,0.001,0.002,0.003,0.004,0.005,0.006,0.007,0.008,0.009,0.01,0.02,0.03,0.04,0.05,0.06,0.07,0.08,0.09,0.1],
                 "labelExpr": "datum.value == 0.1 ? '10⁻¹' : datum.value == 0.01 ? '10⁻²' : datum.value == 0.001 ? '10⁻³' : datum.value == 0.0001 ? '10⁻⁴' : ''",
                 "labelOverlap": false, "labelBound": false, "labelFontSize": 56,
                 "tickSize": {"condition": {"test": "datum.value == 0.1 || datum.value == 0.01 || datum.value == 0.001 || datum.value == 0.0001", "value": -16}, "value": -8},
                 "labelPadding": 39, "title": "Probability", "titlePadding": 13}},
  "color": {"field": "tau", "type": "nominal",
            "scale": {"domain": ["A", "B", "C", "D", "E"], "range": ["#000000", "#008000", "#0000ff", "#ffa500", "#800000"]},
            "legend": {"orient": "none", "legendX": 562, "legendY": 23, "padding": 13, "strokeColor": "black", "fillColor": "white", "title": null,
                       "labelFont": "Liberation Serif", "labelFontSize": 52, "labelColor": "black", "labelLimit": 0,
                       "labelExpr": "datum.label == 'A' ? 'τ = 1 10⁵' : datum.label == 'B' ? 'τ = 2 10⁵' : datum.label == 'C' ? 'τ = 1 10⁶' : datum.label == 'D' ? 'τ = 2 10⁶' : 'τ = 5 10⁶'",
                       "symbolType": "M-3,-1H3V1H-3Z", "symbolSize": 986, "symbolStrokeWidth": 6, "symbolFillColor": "transparent",
                       "symbolOffset": 22.5, "labelOffset": 51, "rowPadding": 13.7}},
  "detail": {"field": "seg"},
  "order": {"value": null}
 }
},
{
 "data": {"name": "vline"},
 "mark": {"type": "rule", "color": "#ff0000", "strokeWidth": 4.5, "strokeDash": [19, 9]},
 "encoding": {
  "x": {"field": "work", "type": "quantitative", "axis": {"orient": "top", "values": [7400, 7600, 7800, 8000, 8200], "labels": false, "tickSize": -16, "title": null}}
 }
},
{
 "data": {"name": "delta"},
 "mark": {"type": "text", "font": "Liberation Serif", "fontSize": 104, "color": "#ff0000", "baseline": "alphabetic", "align": "center"},
 "encoding": {
  "x": {"field": "work", "type": "quantitative", "axis": null},
  "y": {"field": "prob", "type": "quantitative",
        "axis": {"orient": "right", "values": [0.00005,0.00006,0.00007,0.00008,0.00009,0.0001,0.0002,0.0003,0.0004,0.0005,0.0006,0.0007,0.0008,0.0009,0.001,0.002,0.003,0.004,0.005,0.006,0.007,0.008,0.009,0.01,0.02,0.03,0.04,0.05,0.06,0.07,0.08,0.09,0.1],
                 "labels": false, "title": null,
                 "tickSize": {"condition": {"test": "datum.value == 0.1 || datum.value == 0.01 || datum.value == 0.001 || datum.value == 0.0001", "value": -16}, "value": -8}}},
  "text": {"field": "label"}
 }
},
{
 "data": {"name": "gee"},
 "mark": {"type": "text", "font": "Liberation Serif", "fontSize": 104, "fontStyle": "italic", "color": "#ff0000", "baseline": "alphabetic", "align": "center"},
 "encoding": {
  "x": {"field": "work", "type": "quantitative", "axis": null},
  "y": {"field": "prob", "type": "quantitative", "axis": null},
  "text": {"field": "label"}
 }
}
],
"resolve": {"axis": {"x": "independent", "y": "independent"}}
}
